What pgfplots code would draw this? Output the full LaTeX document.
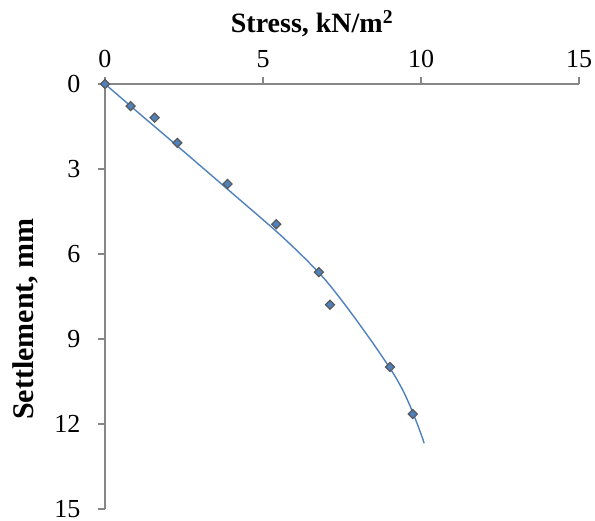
\documentclass[border=0pt]{standalone}
\usepackage{fontspec}
\setmainfont{Liberation Serif}
\usepackage{pgfplots}
\pgfplotsset{compat=1.18}

\definecolor{serblue}{HTML}{4F81BD}
\definecolor{markedge}{HTML}{595959}
\definecolor{axgray}{HTML}{868686}

\begin{document}
\begin{tikzpicture}[x=1pt,y=1pt]
\useasboundingbox (0,0) rectangle (595,521);
\begin{axis}[
  at={(105pt,12pt)}, anchor=south west,
  scale only axis, width=474pt, height=425pt,
  xmin=0, xmax=15, ymin=0, ymax=15,
  y dir=reverse,
  axis x line*=top, axis y line*=left,
  axis line style={axgray, line width=1.3pt, -},
  xtick={0,5,10,15}, ytick={0,3,6,9,12,15},
  tick align=outside, major tick length=7pt,
  tick style={axgray, line width=1.3pt},
  every tick label/.append style={font=\fontsize{26}{30}\selectfont, text=black},
  /pgf/number format/assume math mode=true,
  xticklabel style={yshift=6pt},
  yticklabel style={xshift=-14pt, inner ysep=0pt},
  clip=false,
]
% measured stress-settlement points
\addplot[only marks, mark=square*, mark size=3.2pt,
  mark options={rotate=45, fill=serblue, draw=markedge, line width=1.2pt}]
  coordinates {
  (0,0) (0.81,0.78) (1.57,1.19) (2.29,2.08) (3.88,3.53)
  (5.42,4.95) (6.77,6.64) (7.12,7.79) (9.02,9.99) (9.74,11.65)
};
% fitted trend curve
\addplot[serblue, line width=1.4pt, smooth, no marks] coordinates {
  (0,0) (1,0.96) (2,1.91) (3,2.87) (4,3.83) (5,4.79) (5.5,5.28)
  (6,5.80) (6.5,6.35) (7,6.95) (7.5,7.65) (8,8.40) (8.5,9.18)
  (9,10.0) (9.25,10.45) (9.5,10.98) (9.75,11.62) (10,12.35) (10.1,12.68)
};
\end{axis}
\node[font=\bfseries\fontsize{28}{32}\selectfont, anchor=base] at (312,488) {Stress, kN/m\textsuperscript{2}};
\node[font=\bfseries\fontsize{30}{34}\selectfont, rotate=90, anchor=center] at (25,202) {Settlement, mm};
\end{tikzpicture}
\end{document}
